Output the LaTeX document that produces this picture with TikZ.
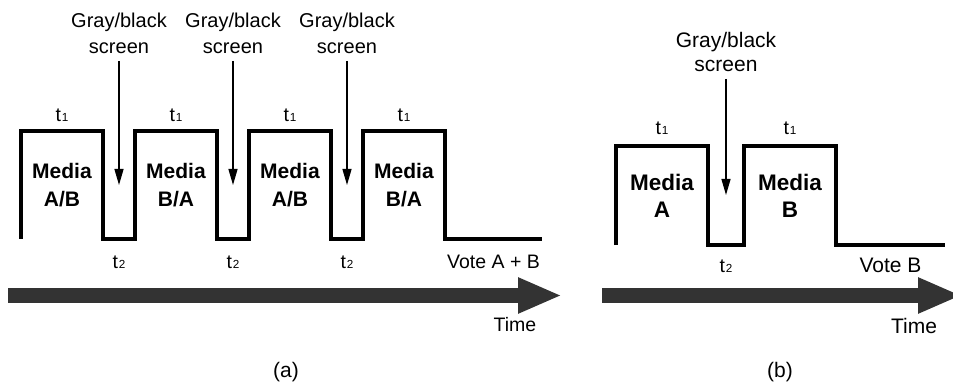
\documentclass[tikz,border=0pt]{standalone}
\usepackage{fontspec}
\setmainfont{Liberation Sans}
\usepackage{graphicx}
\usetikzlibrary{positioning}
\usetikzlibrary{calc}
\usetikzlibrary{arrows.meta}

\newcommand{\tsub}[2]{#1\kern0.04em\scalebox{0.6}{#2}}

\begin{document}
\begin{tikzpicture}[x=1pt, y=-1pt, outer sep=0,
    wave/.style={line width=3.3pt},
    pulseA/.style={inner sep=0, minimum width=82pt, minimum height=108pt, align=center, text depth=0pt, font=\fontsize{21}{28}\selectfont\bfseries},
    pulseB/.style={inner sep=0, minimum width=92pt, minimum height=99pt, align=center, text depth=0pt, font=\fontsize{22.5}{27}\selectfont\bfseries},
    lbl/.style={inner sep=0, text height=14pt, text depth=3pt, font=\fontsize{19.5}{23}\selectfont},
    screenA/.style={inner xsep=0, inner ysep=7pt, align=center, text depth=0pt, font=\fontsize{20}{26}\selectfont},
    screenB/.style={inner xsep=0, inner ysep=7pt, align=center, text depth=0pt, font=\fontsize{21}{24}\selectfont},
    pointer/.style={line width=1.3pt, -{Triangle[length=16pt,width=9pt]}},
    timeline/.style={line width=15pt, draw=black!80, -{Triangle[length=44pt,width=33pt]}}]
    \useasboundingbox (0,0) rectangle (953,382);

    % panel (a): media pulses
    \node [pulseA] (mA1) at (62,185) {Media\\A/B};
    \node [pulseA, right=32pt of mA1] (mA2) {Media\\B/A};
    \node [pulseA, right=32pt of mA2] (mA3) {Media\\A/B};
    \node [pulseA, right=32pt of mA3] (mA4) {Media\\B/A};
    \coordinate [right=97pt of mA4.south east] (endA);
    \draw [wave] (mA1.south west) -- (mA1.north west) -- (mA1.north east) -- (mA1.south east)
        -- (mA2.south west) -- (mA2.north west) -- (mA2.north east) -- (mA2.south east)
        -- (mA3.south west) -- (mA3.north west) -- (mA3.north east) -- (mA3.south east)
        -- (mA4.south west) -- (mA4.north west) -- (mA4.north east) -- (mA4.south east) -- (endA);
    \node [lbl, above=6pt of mA1] (t1A1) {\tsub{t}{1}};
    \node [lbl, above=6pt of mA2] (t1A2) {\tsub{t}{1}};
    \node [lbl, above=6pt of mA3] (t1A3) {\tsub{t}{1}};
    \node [lbl, above=6pt of mA4] (t1A4) {\tsub{t}{1}};
    % gaps with gray screens
    \coordinate (gA1) at ($(mA1.south east)!0.5!(mA2.south west)$);
    \coordinate (gA2) at ($(mA2.south east)!0.5!(mA3.south west)$);
    \coordinate (gA3) at ($(mA3.south east)!0.5!(mA4.south west)$);
    \node [lbl, below=16pt of gA1] (t2A1) {\tsub{t}{2}};
    \node [lbl, below=16pt of gA2] (t2A2) {\tsub{t}{2}};
    \node [lbl, below=16pt of gA3] (t2A3) {\tsub{t}{2}};
    \coordinate [above=54pt of gA1] (aA1);
    \coordinate [above=54pt of gA2] (aA2);
    \coordinate [above=54pt of gA3] (aA3);
    \node [screenA, above=124pt of aA1] (sA1) {Gray/black\\screen};
    \node [screenA, above=124pt of aA2] (sA2) {Gray/black\\screen};
    \node [screenA, above=124pt of aA3] (sA3) {Gray/black\\screen};
    \draw [pointer] (sA1) -- (aA1);
    \draw [pointer] (sA2) -- (aA2);
    \draw [pointer] (sA3) -- (aA3);
    \coordinate (tailA) at ($(mA4.south east)!0.5!(endA)$);
    \node [lbl, below=15pt of tailA] (voteA) {Vote A + B};
    % time axis (a)
    \coordinate (startA) at (8,295.5);
    \coordinate (tipA) at (562,295.5);
    \draw [timeline] (startA) -- (tipA);
    \node [lbl, anchor=base] (timeA) at (515,331) {Time};
    \node [lbl, anchor=base, font=\fontsize{21}{24}\selectfont] (capA) at (286,377) {(a)};

    % panel (b): media pulses
    \node [pulseB] (mB1) at (662,195.5) {Media\\A};
    \node [pulseB, right=36pt of mB1] (mB2) {Media\\B};
    \coordinate [right=109pt of mB2.south east] (endB);
    \draw [wave] (mB1.south west) -- (mB1.north west) -- (mB1.north east) -- (mB1.south east)
        -- (mB2.south west) -- (mB2.north west) -- (mB2.north east) -- (mB2.south east) -- (endB);
    \node [lbl, above=8pt of mB1] (t1B1) {\tsub{t}{1}};
    \node [lbl, above=8pt of mB2] (t1B2) {\tsub{t}{1}};
    \coordinate (gB1) at ($(mB1.south east)!0.5!(mB2.south west)$);
    \node [lbl, below=13pt of gB1] (t2B1) {\tsub{t}{2}};
    \coordinate [above=50pt of gB1] (aB1);
    \node [screenB, above=116pt of aB1] (sB1) {Gray/black\\screen};
    \draw [pointer] (sB1) -- (aB1);
    \coordinate (tailB) at ($(mB2.south east)!0.5!(endB)$);
    \node [lbl, below=13pt of tailB, font=\fontsize{21}{24}\selectfont] (voteB) {Vote B};
    % time axis (b)
    \coordinate (startB) at (602,295.5);
    \coordinate (tipB) at (962,295.5);
    \draw [timeline] (startB) -- (tipB);
    \node [lbl, anchor=base, font=\fontsize{21}{24}\selectfont] (timeB) at (914,333) {Time};
    \node [lbl, anchor=base, font=\fontsize{21}{24}\selectfont] (capB) at (780,377) {(b)};
\end{tikzpicture}
\end{document}
